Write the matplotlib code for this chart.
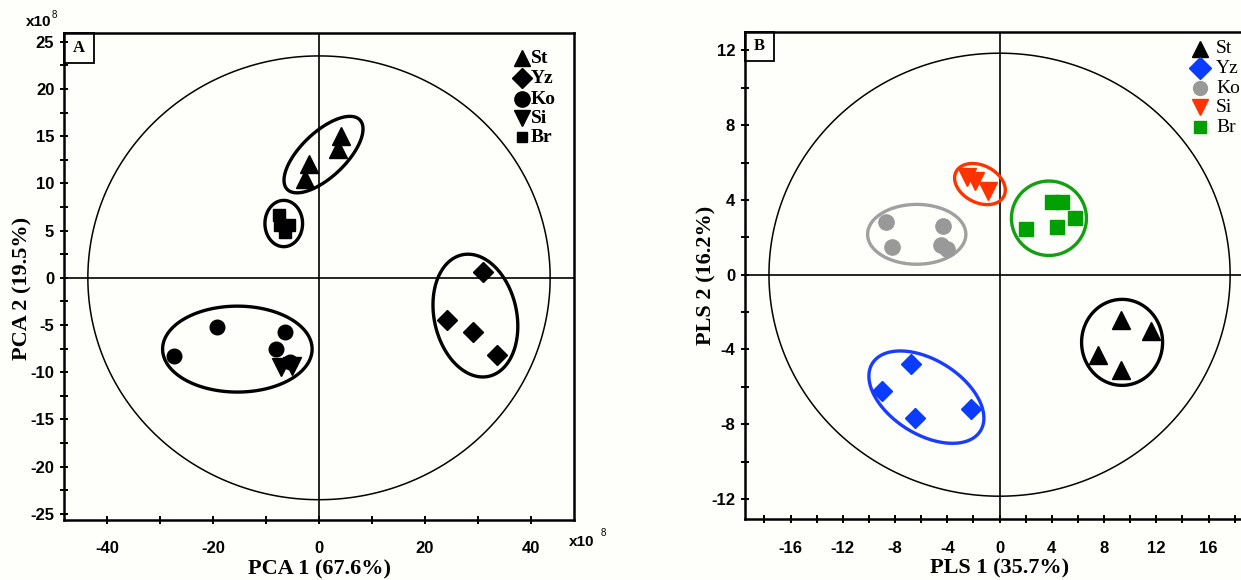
import numpy as np
import matplotlib
matplotlib.use("Agg")
import matplotlib.pyplot as plt
from matplotlib.patches import Rectangle, Polygon

plt.rcParams["axes.unicode_minus"] = False

# ---------------- data: panel A (PCA, x1e8) ----------------
groups = ["St", "Yz", "Ko", "Si", "Br"]

st_a_x = [4.2, 3.6, -1.8, -2.7]
st_a_y = [15.0, 13.6, 12.1, 10.5]
yz_a_x = [30.9, 24.1, 29.0, 33.5]
yz_a_y = [0.6, -4.5, -5.7, -8.2]
ko_a_x = [-27.4, -19.3, -6.5, -8.2, -5.4]
ko_a_y = [-8.3, -5.2, -5.7, -7.5, -8.9]
si_a_x = [-7.2, -5.0]
si_a_y = [-9.4, -9.3]
br_a_x = [-7.6, -7.4, -5.7, -6.5]
br_a_y = [6.6, 5.6, 5.6, 4.8]

# ellipses: centre x, centre y, half-extent x, half-extent y, phase (deg)
ell_a_cx = [0.85, 29.5, -15.4, -6.65]
ell_a_cy = [13.05, -4.0, -7.55, 5.75]
ell_a_rx = [7.45, 8.0, 14.1, 3.55]
ell_a_ry = [4.05, 6.5, 4.55, 2.45]
ell_a_ph = [48, 100, 90, 90]
big_a = [43.6, 23.5]

# ---------------- data: panel B (PLS) ----------------
st_b_x = [9.3, 11.6, 7.5, 9.3]
st_b_y = [-2.4, -3.0, -4.3, -5.1]
yz_b_x = [-6.8, -9.0, -6.5, -2.2]
yz_b_y = [-4.8, -6.2, -7.65, -7.2]
ko_b_x = [-8.7, -4.3, -8.2, -4.5, -4.0]
ko_b_y = [2.8, 2.6, 1.5, 1.6, 1.4]
si_b_x = [-2.5, -1.9, -0.9]
si_b_y = [5.2, 5.0, 4.5]
br_b_x = [4.0, 4.8, 5.8, 4.4, 2.0]
br_b_y = [3.9, 3.9, 3.05, 2.55, 2.45]

ell_b_cx = [9.38, -5.6, -6.34, -1.5, 3.78]
ell_b_cy = [-3.62, -6.55, 2.16, 4.85, 3.02]
ell_b_rx = [3.1, 4.4, 3.76, 1.94, 2.87]
ell_b_ry = [2.3, 2.47, 1.6, 1.1, 1.99]
ell_b_ph = [90, 117, 90, 107, 90]
big_b = [17.65, 11.85]

colors_b = ["black", "#0a3cff", "#999999", "#ff3300", "#00a000"]
ell_colors_b = ["black", "#1a3cff", "#a0a0a0", "#ff3300", "#10a010"]
markers = ["^", "D", "o", "v", "s"]

BG = "#fefefa"
SANS = "Liberation Sans"
SERIF = "Liberation Serif"

fig = plt.figure(figsize=(12.41, 5.80), dpi=100, facecolor=BG)
W, H = 1241, 580
tt = np.linspace(0, 2 * np.pi, 360, endpoint=False)


def ellipse(ax, cx, cy, rx, ry, ph, color, lw, z=2):
    pts = np.column_stack([cx + rx * np.cos(tt), cy + ry * np.cos(tt - np.deg2rad(ph))])
    ax.add_patch(Polygon(pts, closed=True, fill=False, ec=color, lw=lw, zorder=z))


def style_axes(ax):
    ax.set_facecolor(BG)
    for s in ax.spines.values():
        s.set_linewidth(1.8)
    ax.tick_params(which="both", direction="inout", length=6, width=1.4,
                   top=False, right=False, labelsize=12)
    for lab in ax.get_xticklabels() + ax.get_yticklabels():
        lab.set_fontfamily(SANS)
        lab.set_fontweight("bold")


# ================= Panel A =================
axA = fig.add_axes([64 / W, 1 - 520 / H, 510 / W, 487.3 / H])
axA.set_xlim(-48.1, 48.1)
axA.set_ylim(-25.65, 25.96)
axA.axhline(0, color="black", lw=1.2, zorder=1)
axA.axvline(0, color="black", lw=1.2, zorder=1)
ellipse(axA, 0, 0, big_a[0], big_a[1], 90, "black", 1.1, z=1)
for cx, cy, rx, ry, ph in zip(ell_a_cx, ell_a_cy, ell_a_rx, ell_a_ry, ell_a_ph):
    ellipse(axA, cx, cy, rx, ry, ph, "black", 2.4)

axA.plot(st_a_x, st_a_y, "^", color="black", ms=12.5, ls="none", zorder=3)
axA.plot(yz_a_x, yz_a_y, "D", color="black", ms=10, ls="none", zorder=3)
axA.plot(ko_a_x, ko_a_y, "o", color="black", ms=10.5, ls="none", zorder=3)
axA.plot(si_a_x, si_a_y, "v", color="black", ms=12.5, ls="none", zorder=3)
axA.plot(br_a_x, br_a_y, "s", color="black", ms=8.5, ls="none", zorder=3)

axA.set_xticks([-40, -20, 0, 20, 40])
axA.set_xticks([-30, -10, 10, 30], minor=True)
axA.set_yticks(np.arange(-25, 26, 5))
axA.set_yticks(np.arange(-22.5, 25, 5), minor=True)
style_axes(axA)
axA.tick_params(axis="x", pad=12)
axA.tick_params(axis="y", pad=4)

axA.set_xlabel("PCA 1 (67.6%)", fontfamily=SERIF, fontweight="bold", fontsize=16, va="center")
axA.xaxis.set_label_coords(0.5, (520 - 569) / 487.3)
axA.set_ylabel("PCA 2 (19.5%)", fontfamily=SERIF, fontweight="bold", fontsize=16, va="center")
axA.yaxis.set_label_coords((22 - 64) / 510, (520 - 288) / 487.3)

# panel letter box
axA.add_patch(Rectangle((0, 1 - 30.6 / 487.3), 30 / 510, 30.6 / 487.3, transform=axA.transAxes,
                        fill=False, lw=1.3, ec="black", zorder=5, clip_on=False))
axA.text(15 / 510, 1 - 15.3 / 487.3, "A", transform=axA.transAxes, ha="center", va="center",
         fontfamily=SERIF, fontweight="bold", fontsize=12, zorder=6)

# legend A
leg_y_a = [(520 - y) / 487.3 for y in [58, 78, 99, 118, 137]]
leg_ms_a = [11.5, 10, 11, 11.5, 7.5]
for g, m, yy, ms in zip(groups, markers, leg_y_a, leg_ms_a):
    axA.plot([(522 - 64) / 510], [yy], m, color="black", ms=ms, transform=axA.transAxes,
             clip_on=False, zorder=5)
    axA.text((531 - 64) / 510, yy, g, transform=axA.transAxes, ha="left", va="center",
             fontfamily=SERIF, fontweight="bold", fontsize=14)

# offset texts
fig.text(26 / W, 1 - 22 / H, "x10", fontfamily=SANS, fontsize=11, fontweight="bold", ha="left", va="center")
fig.text(52 / W, 1 - 15 / H, "8", fontfamily=SANS, fontsize=7, ha="left", va="center")
fig.text(569 / W, 1 - 542 / H, "x10", fontfamily=SANS, fontsize=11, fontweight="bold", ha="left", va="center")
fig.text(601 / W, 1 - 533 / H, "8", fontfamily=SANS, fontsize=7, ha="left", va="center")

# ================= Panel B =================
axB = fig.add_axes([744.8 / W, 1 - 519 / H, 509.5 / W, 487.3 / H])
axB.set_xlim(-19.5, 19.5)
axB.set_ylim(-13.07, 13.0)
axB.axhline(0, color="black", lw=1.2, zorder=1)
axB.axvline(0, color="black", lw=1.2, zorder=1)
ellipse(axB, 0, 0, big_b[0], big_b[1], 90, "black", 1.1, z=1)
for cx, cy, rx, ry, ph, c in zip(ell_b_cx, ell_b_cy, ell_b_rx, ell_b_ry, ell_b_ph, ell_colors_b):
    ellipse(axB, cx, cy, rx, ry, ph, c, 2.4)

axB.plot(st_b_x, st_b_y, "^", color=colors_b[0], ms=13, ls="none", zorder=3)
axB.plot(yz_b_x, yz_b_y, "D", color=colors_b[1], ms=10, ls="none", zorder=3)
axB.plot(ko_b_x, ko_b_y, "o", color=colors_b[2], ms=11, ls="none", zorder=3)
axB.plot(si_b_x, si_b_y, "v", color=colors_b[3], ms=13, ls="none", zorder=3)
axB.plot(br_b_x, br_b_y, "s", color=colors_b[4], ms=10, ls="none", zorder=3)

axB.set_xticks(np.arange(-16, 17, 4))
axB.set_xticks(np.arange(-18, 19, 4), minor=True)
axB.set_yticks(np.arange(-12, 13, 4))
axB.set_yticks(np.arange(-10, 11, 4), minor=True)
style_axes(axB)
axB.tick_params(axis="x", pad=13)
axB.tick_params(axis="y", pad=4)

axB.set_xlabel("PLS 1 (35.7%)", fontfamily=SERIF, fontweight="bold", fontsize=16, va="center")
axB.xaxis.set_label_coords(0.5, (519 - 568) / 487.3)
axB.set_ylabel("PLS 2 (16.2%)", fontfamily=SERIF, fontweight="bold", fontsize=16, va="center")
axB.yaxis.set_label_coords((706 - 744.8) / 509.5, 0.5)

axB.add_patch(Rectangle((0, 1 - 29.5 / 487.3), 29.7 / 509.5, 29.5 / 487.3, transform=axB.transAxes,
                        fill=False, lw=1.3, ec="black", zorder=5, clip_on=False))
axB.text(14.8 / 509.5, 1 - 14.7 / 487.3, "B", transform=axB.transAxes, ha="center", va="center",
         fontfamily=SERIF, fontweight="bold", fontsize=12, zorder=6)

leg_y_b = [(519 - y) / 487.3 for y in [49, 68.5, 88.5, 107.5, 127]]
leg_ms_b = [11, 11, 10, 11, 9]
for g, m, c, yy, ms in zip(groups, markers, colors_b, leg_y_b, leg_ms_b):
    axB.plot([(1200 - 744.8) / 509.5], [yy], m, color=c, ms=ms, transform=axB.transAxes,
             clip_on=False, zorder=5)
    axB.text((1216 - 744.8) / 509.5, yy, g, transform=axB.transAxes, ha="left", va="center",
             fontfamily=SERIF, fontsize=14)

fig.savefig("out.png", dpi=100, facecolor=BG)
